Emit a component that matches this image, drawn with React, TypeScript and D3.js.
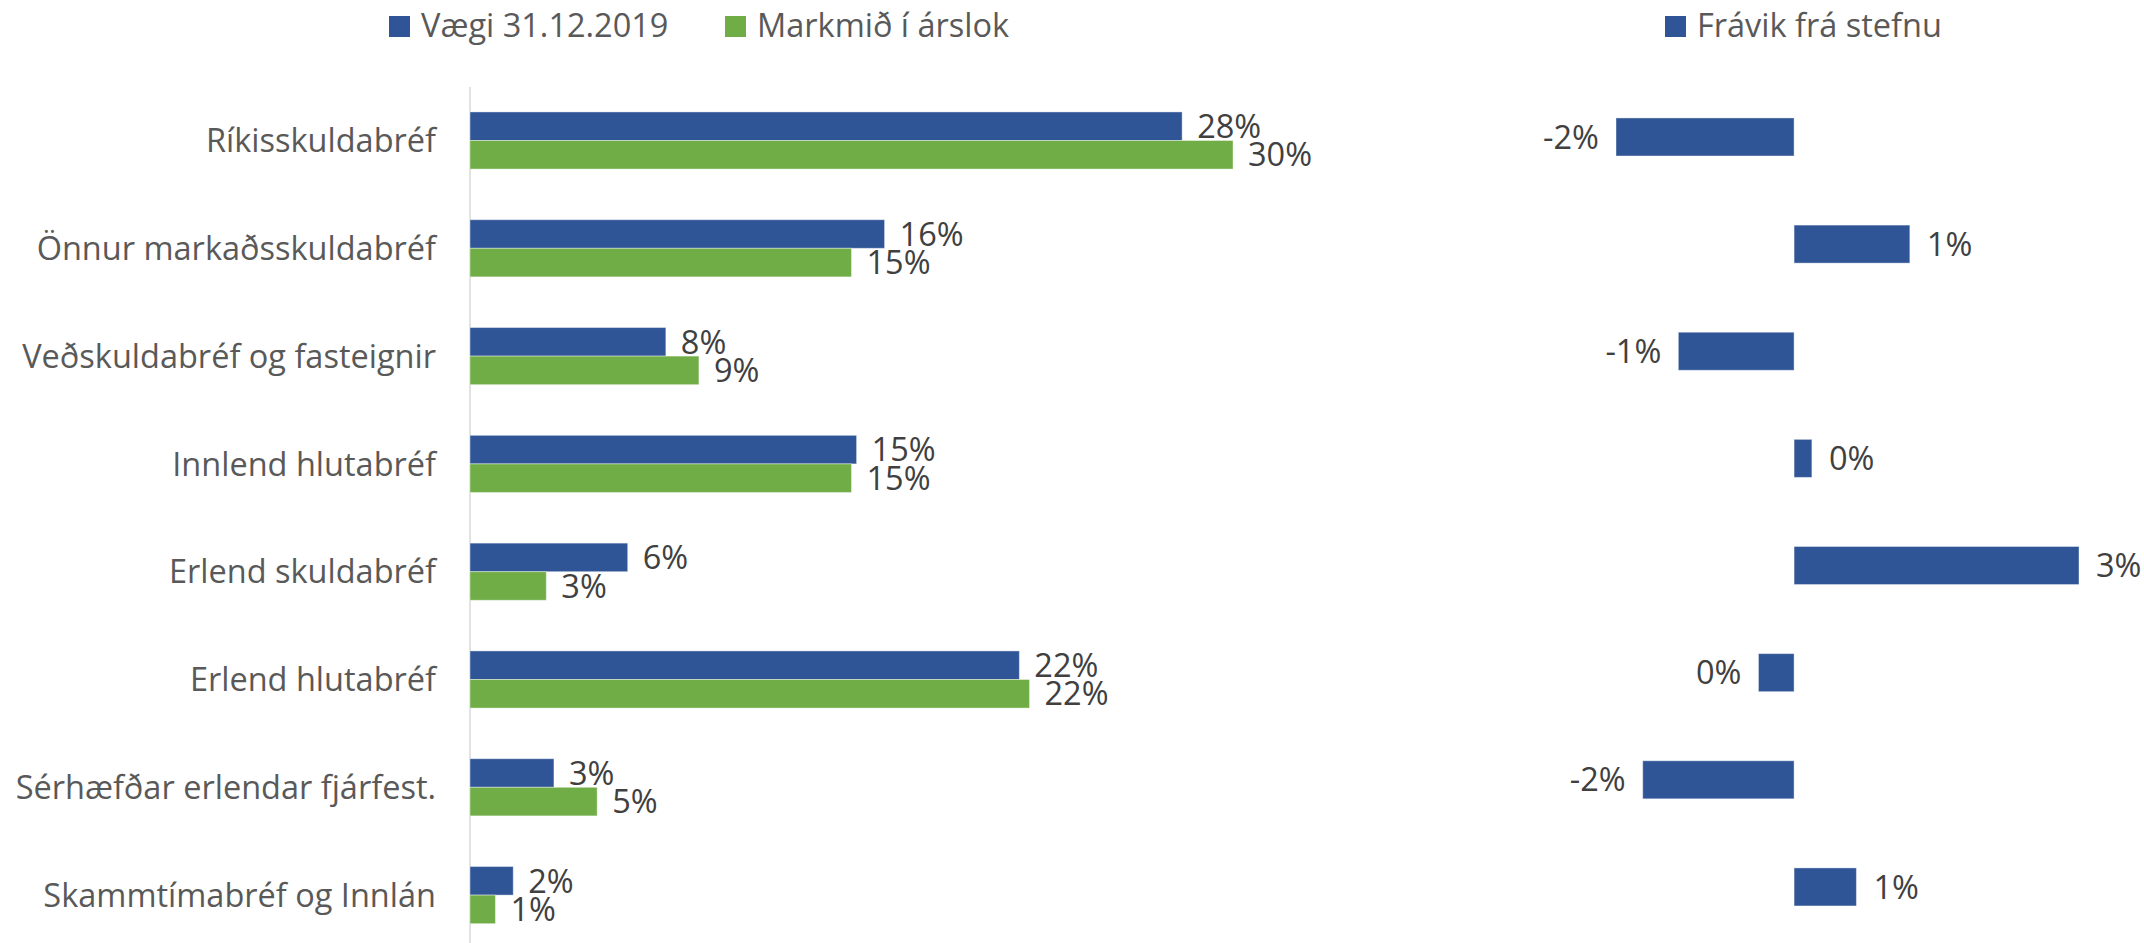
import React from "react";
import * as d3 from "d3";

const categories = [
  "Ríkisskuldabréf",
  "Önnur markaðsskuldabréf",
  "Veðskuldabréf og fasteignir",
  "Innlend hlutabréf",
  "Erlend skuldabréf",
  "Erlend hlutabréf",
  "Sérhæfðar erlendar fjárfest.",
  "Skammtímabréf og Innlán",
];
const vaegi = [28.0, 16.3, 7.7, 15.2, 6.2, 21.6, 3.3, 1.7];
const markmid = [30.0, 15.0, 9.0, 15.0, 3.0, 22.0, 5.0, 1.0];
const fravik = [-2.0, 1.3, -1.3, 0.2, 3.2, -0.4, -1.7, 0.7];

const seriesNames = ["Vægi 31.12.2019", "Markmið í árslok"];
const devName = "Frávik frá stefnu";

const BLUE = "#2F5597";
const GREEN = "#70AD47";
const FONT = "'Open Sans', sans-serif";
const FS = 32.5;

const W = 2144;
const H = 943;

const fmt = (v: number) => `${Math.round(v) === 0 ? 0 : Math.round(v)}%`;

export default function App() {
  const x = d3.scaleLinear().domain([0, 30]).range([470, 1233]);
  const y = d3
    .scaleBand<string>()
    .domain(categories)
    .range([86.6, 949])
    .paddingInner(0.47)
    .paddingOuter(0.235);
  const sub = d3
    .scaleBand<string>()
    .domain(["a", "b"])
    .range([0, y.bandwidth()]);

  const xd = d3.scaleLinear().domain([-2, 3.2]).range([1616, 2079]);
  const yd = d3
    .scaleBand<string>()
    .domain(categories)
    .range([83.4, 940.5])
    .paddingInner(0.645)
    .paddingOuter(0.3225);

  const series = [
    { key: "a", values: vaegi, color: BLUE, name: seriesNames[0] },
    { key: "b", values: markmid, color: GREEN, name: seriesNames[1] },
  ];

  const legendItems = [
    { x: 389, color: BLUE, name: seriesNames[0] },
    { x: 725, color: GREEN, name: seriesNames[1] },
    { x: 1665, color: BLUE, name: devName },
  ];

  return (
    <svg
      width={W}
      height={H}
      style={{ position: "absolute", left: 0, top: 0, background: "#fff" }}
      fontFamily={FONT}
    >
      <rect x={0} y={0} width={W} height={H} fill="#fff" />
      {/* legends */}
      {legendItems.map((l, i) => (
        <g key={i}>
          <rect x={l.x} y={16} width={21} height={21} fill={l.color} />
          <text x={l.x + 32} y={37} fontSize={FS} fill="#595959">
            {l.name}
          </text>
        </g>
      ))}

      {/* left axis line */}
      <line x1={x(0)} x2={x(0)} y1={87} y2={H} stroke="#D9D9D9" strokeWidth={1.5} />

      {/* category labels */}
      {categories.map((c) => (
        <text
          key={c}
          x={436}
          y={(y(c) as number) + y.bandwidth() / 2}
          dy="0.36em"
          textAnchor="end"
          fontSize={FS}
          fill="#595959"
        >
          {c}
        </text>
      ))}

      {/* grouped bars */}
      {series.map((s) =>
        categories.map((c, i) => {
          const by = (y(c) as number) + (sub(s.key) as number);
          const bh = sub.bandwidth();
          const xe = x(s.values[i]);
          return (
            <g key={s.key + c}>
              <rect
                x={x(0)}
                y={by}
                width={xe - x(0)}
                height={bh}
                fill={s.color}
                stroke="#ffffff"
                strokeOpacity={0.4}
                strokeWidth={1}
              />
              <text
                x={xe + 15}
                y={by + bh / 2}
                dy="0.36em"
                fontSize={FS}
                fill="#404040"
              >
                {fmt(s.values[i])}
              </text>
            </g>
          );
        })
      )}

      {/* deviation bars */}
      {categories.map((c, i) => {
        const v = fravik[i];
        const by = yd(c) as number;
        const bh = yd.bandwidth();
        const x0 = xd(0);
        const x1 = xd(v);
        const left = Math.min(x0, x1);
        const w = Math.abs(x1 - x0);
        return (
          <g key={"d" + c}>
            <rect
              x={left}
              y={by}
              width={w}
              height={bh}
              fill={BLUE}
              stroke="#ffffff"
              strokeOpacity={0.4}
              strokeWidth={1}
            />
            <text
              x={v >= 0 ? x1 + 17 : x1 - 17}
              y={by + bh / 2}
              dy="0.36em"
              textAnchor={v >= 0 ? "start" : "end"}
              fontSize={FS}
              fill="#404040"
            >
              {fmt(v)}
            </text>
          </g>
        );
      })}
    </svg>
  );
}
